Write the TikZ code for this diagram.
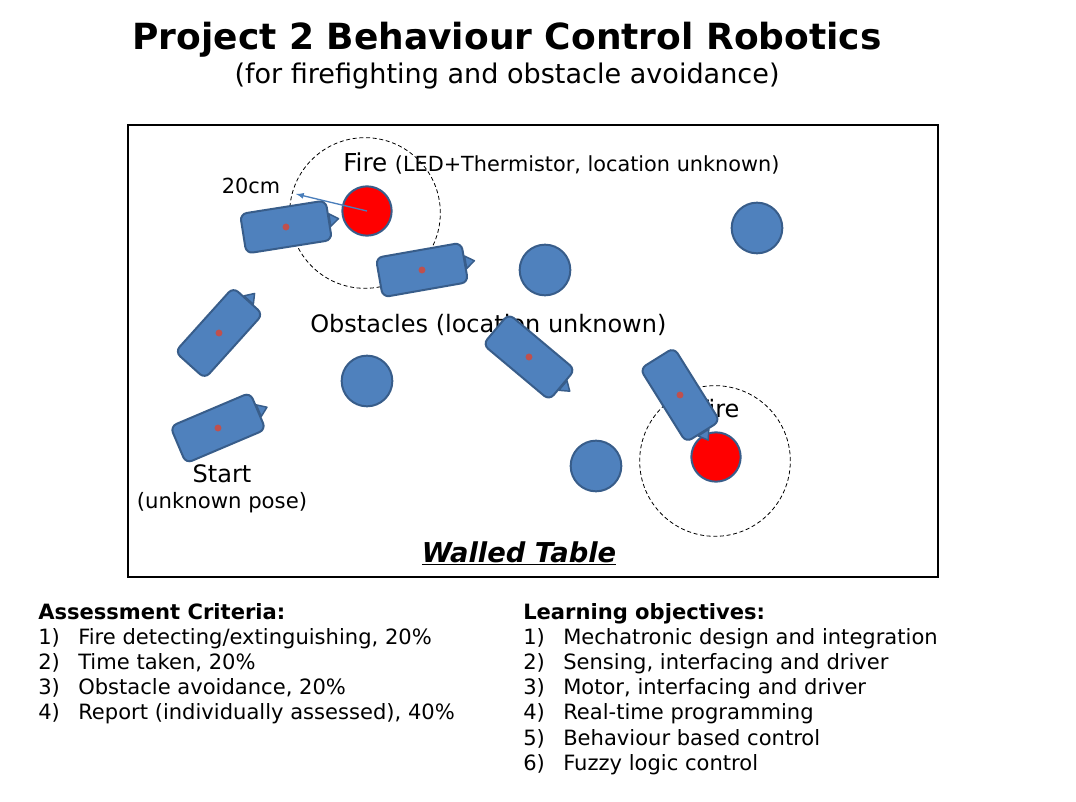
\documentclass[tikz,border=0pt]{standalone}
\usepackage{fontspec}
\setmainfont{DejaVu Sans}
\usetikzlibrary{positioning}
\usetikzlibrary{calc}
\definecolor{robotblue}{HTML}{4F81BD}
\definecolor{robotline}{HTML}{385D8A}
\definecolor{dotred}{HTML}{C0504D}
\definecolor{arrowblue}{HTML}{4A7EBB}

\begin{document}
\begin{tikzpicture}[x=0.75pt, y=-0.75pt,
		robot/.style={draw=robotline, fill=robotblue, line width=1.5pt, rounded corners=5pt, minimum width=65pt, minimum height=30pt, inner sep=0pt},
		nose/.style={draw=robotline, fill=robotblue, line width=1.1pt, line join=round},
		obstacle/.style={circle, draw=robotline, fill=robotblue, line width=1.5pt, minimum size=38pt, inner sep=0pt},
		flame/.style={circle, draw=robotline, fill=red, line width=1.5pt, minimum size=37pt, inner sep=0pt},
		zone/.style={circle, draw, line width=0.6pt, dash pattern=on 3pt off 2pt, minimum size=113pt, inner sep=0pt},
		label/.style={inner sep=0pt, font=\fontsize{18}{21}\selectfont},
		listtext/.style={inner sep=0pt, font=\fontsize{15.8}{18.9}\selectfont}]
	\useasboundingbox (0,0) rectangle (1076,802);
	% Title
	\node[anchor=base, inner sep=0pt, font=\bfseries\fontsize{27}{32}\selectfont] (title) at (507,50) {Project 2 Behaviour Control Robotics};
	\node[anchor=base, inner sep=0pt, font=\fontsize{20.3}{24}\selectfont] (subtitle) at (507,84) {(for firefighting and obstacle avoidance)};
	% Table
	\node[draw, line width=2.2pt, minimum width=607.5pt, minimum height=339pt, inner sep=0pt] (table) at (533,351) {};
	\node[anchor=base, inner sep=0pt, font=\bfseries\itshape\fontsize{20.5}{24}\selectfont] (walled) at (519,562) {\underline{Walled Table}};
	% Fire zones and labels
	\node[zone] (zone1) at (365,213) {};
	\node[zone] (zone2) at (715,461) {};
	\node[label, anchor=base west] (firetext) at (343,172) {{\fontsize{18.5}{21}\selectfont Fire} {\fontsize{15.6}{18}\selectfont (LED+Thermistor, location unknown)}};
	\node[label, anchor=base] (firetext2) at (718,418) {Fire};
	\node[label, anchor=base west] (obstext) at (310,333) {Obstacles (location unknown)};
	\node[label, anchor=base] (start) at (222,483) {Start};
	\node[label, anchor=base, font=\fontsize{15.9}{18}\selectfont] (pose) at (222,509) {(unknown pose)};
	\node[label, anchor=base, font=\fontsize{15.6}{18}\selectfont] (dist) at (251,194) {20cm};
	% Obstacles and fires
	\node[obstacle] (obs1) at (545,270) {};
	\node[obstacle] (obs2) at (757,228) {};
	\node[obstacle] (obs3) at (367,381) {};
	\node[obstacle] (obs4) at (596,466) {};
	\node[flame] (fire1) at (367,211) {};
	\node[flame] (fire2) at (716,457) {};
	% Arrow
	\coordinate (reach) at (296,194);
	\draw[->, >=latex, arrowblue, line width=1pt] (fire1.center) -- (reach);
	% Robots
	\node[robot, rotate=9] (r1) at (286,227) {};
	\draw[nose] ($(r1.north east)!0.35!(r1.south east)$) -- ($(r1.center)!1.2!(r1.east)$) -- ($(r1.north east)!0.65!(r1.south east)$) -- cycle;
	\fill[dotred] (r1.center) circle (2.6pt);
	\node[robot, rotate=10] (r2) at (422,270) {};
	\draw[nose] ($(r2.north east)!0.35!(r2.south east)$) -- ($(r2.center)!1.2!(r2.east)$) -- ($(r2.north east)!0.65!(r2.south east)$) -- cycle;
	\fill[dotred] (r2.center) circle (2.6pt);
	\node[robot, rotate=48] (r3) at (219,333) {};
	\draw[nose] ($(r3.north east)!0.35!(r3.south east)$) -- ($(r3.center)!1.2!(r3.east)$) -- ($(r3.north east)!0.65!(r3.south east)$) -- cycle;
	\fill[dotred] (r3.center) circle (2.6pt);
	\node[robot, rotate=23] (r4) at (218,428) {};
	\draw[nose] ($(r4.north east)!0.35!(r4.south east)$) -- ($(r4.center)!1.2!(r4.east)$) -- ($(r4.north east)!0.65!(r4.south east)$) -- cycle;
	\fill[dotred] (r4.center) circle (2.6pt);
	\node[robot, rotate=-40] (r5) at (529,357) {};
	\draw[nose] ($(r5.north east)!0.35!(r5.south east)$) -- ($(r5.center)!1.2!(r5.east)$) -- ($(r5.north east)!0.65!(r5.south east)$) -- cycle;
	\fill[dotred] (r5.center) circle (2.6pt);
	\node[robot, rotate=-58] (r6) at (680,395) {};
	\draw[nose] ($(r6.north east)!0.35!(r6.south east)$) -- ($(r6.center)!1.2!(r6.east)$) -- ($(r6.north east)!0.65!(r6.south east)$) -- cycle;
	\fill[dotred] (r6.center) circle (2.6pt);
	% Lists
	\node[listtext, anchor=base west] (criteria) at (38,619) {\begin{tabular}[t]{@{}l@{}}
		\textbf{Assessment Criteria:}\\
		\makebox[30pt][l]{1)}Fire detecting/extinguishing, 20\%\\
		\makebox[30pt][l]{2)}Time taken, 20\%\\
		\makebox[30pt][l]{3)}Obstacle avoidance, 20\%\\
		\makebox[30pt][l]{4)}Report (individually assessed), 40\%
	\end{tabular}};
	\node[listtext, anchor=base west] (objectives) at (523,619) {\begin{tabular}[t]{@{}l@{}}
		\textbf{Learning objectives:}\\
		\makebox[30pt][l]{1)}Mechatronic design and integration\\
		\makebox[30pt][l]{2)}Sensing, interfacing and driver\\
		\makebox[30pt][l]{3)}Motor, interfacing and driver\\
		\makebox[30pt][l]{4)}Real-time programming\\
		\makebox[30pt][l]{5)}Behaviour based control\\
		\makebox[30pt][l]{6)}Fuzzy logic control
	\end{tabular}};
\end{tikzpicture}
\end{document}
